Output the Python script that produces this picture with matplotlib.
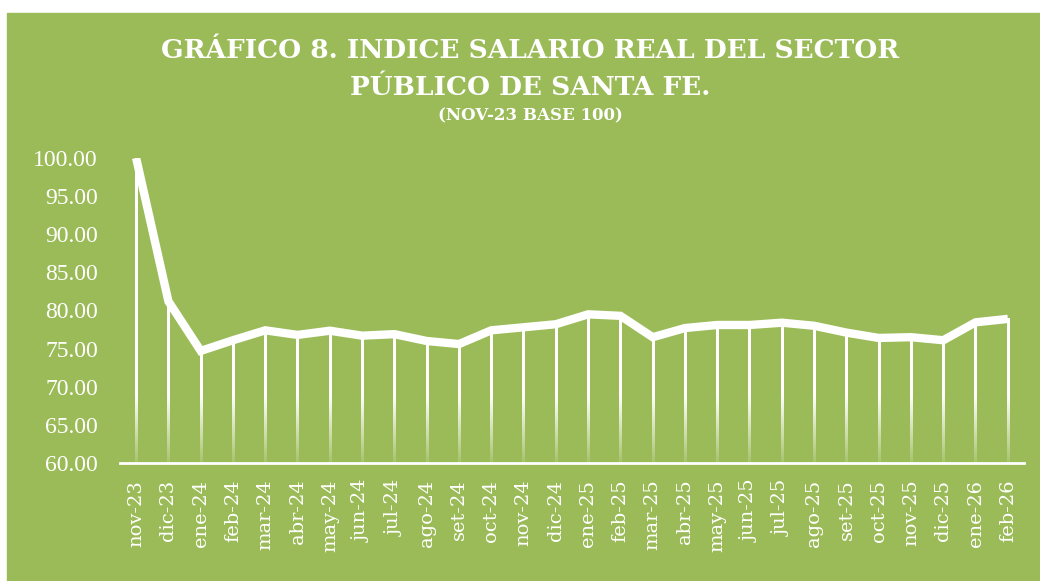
#!/usr/bin/env python3
"""
Indice salario real del sector publico de Santa Fe (nov-23 base 100).
"""

import matplotlib

matplotlib.use("Agg")
import matplotlib.pyplot as plt
import numpy as np
from matplotlib.patches import Rectangle

MONTHS = [
    "nov-23", "dic-23", "ene-24", "feb-24", "mar-24", "abr-24", "may-24",
    "jun-24", "jul-24", "ago-24", "set-24", "oct-24", "nov-24", "dic-24",
    "ene-25", "feb-25", "mar-25", "abr-25", "may-25", "jun-25", "jul-25",
    "ago-25", "set-25", "oct-25", "nov-25", "dic-25", "ene-26", "feb-26",
]
INDEX = [
    100.0, 81.2, 74.7, 76.1, 77.4, 76.8, 77.35,
    76.7, 76.9, 76.0, 75.6, 77.4, 77.8, 78.2,
    79.5, 79.3, 76.5, 77.7, 78.1, 78.1, 78.4,
    78.0, 77.1, 76.4, 76.5, 76.1, 78.45, 78.9,
]
Y_TICKS = [60, 65, 70, 75, 80, 85, 90, 95, 100]

GREEN = "#9bbb59"
WHITE = "#ffffff"
SERIF = ["DejaVu Serif"]
TICK_SERIF = ["Liberation Serif", "DejaVu Serif"]


def drop_lines(ax, xs, ys, base=60.0, half_width=0.035):
    # white drop lines that fade out towards the category axis
    for x, y in zip(xs, ys):
        vals = np.linspace(y, base, 200)
        alpha = np.clip(0.12 + (vals - base) / 10.0, 0.12, 1.0)
        img = np.ones((len(vals), 1, 4))
        img[:, 0, 3] = alpha
        ax.imshow(img, extent=(x - half_width, x + half_width, base, y), origin="upper",
                  aspect="auto", interpolation="bilinear", zorder=2)


def main() -> None:
    fig = plt.figure(figsize=(10.4, 5.81), dpi=100)
    fig.patch.set_facecolor("white")
    fig.patches.append(Rectangle((7 / 1040, 0), 1 - 7 / 1040, 1 - 13 / 581,
                                 transform=fig.transFigure, color=GREEN, zorder=-10))

    ax = fig.add_axes([120 / 1040, 1 - 463 / 581, 904 / 1040, 305 / 581])
    ax.set_facecolor("none")
    ax.set_zorder(1)
    xs = np.arange(len(MONTHS))

    drop_lines(ax, xs, INDEX)
    ax.plot(xs, INDEX, color=WHITE, lw=6, solid_joinstyle="miter", solid_capstyle="butt", zorder=3)

    ax.set_xlim(-0.5, len(MONTHS) - 0.5)
    ax.set_ylim(60, 100)
    ax.set_yticks(Y_TICKS)
    ax.set_yticklabels([f"{v:.2f}" for v in Y_TICKS], family=TICK_SERIF, fontsize=17, color=WHITE)
    ax.set_xticks(xs)
    ax.set_xticklabels(MONTHS, rotation=90, family=SERIF, fontsize=14, color=WHITE)
    ax.tick_params(axis="both", length=0)
    ax.tick_params(axis="y", pad=16)
    ax.tick_params(axis="x", pad=12)
    for side in ["top", "right", "left"]:
        ax.spines[side].set_visible(False)
    ax.spines["bottom"].set_color(WHITE)
    ax.spines["bottom"].set_linewidth(2)
    ax.spines["bottom"].set_zorder(4)

    fig.text(0.51, 1 - 50 / 581, "GRÁFICO 8. INDICE SALARIO REAL DEL SECTOR", ha="center", va="center",
             family=SERIF, fontweight="bold", fontsize=19, color=WHITE)
    fig.text(0.51, 1 - 87 / 581, "PÚBLICO DE SANTA FE.", ha="center", va="center",
             family=SERIF, fontweight="bold", fontsize=19, color=WHITE)
    fig.text(0.51, 1 - 116 / 581, "(NOV-23 BASE 100)", ha="center", va="center",
             family=SERIF, fontweight="bold", fontsize=12, color=WHITE)

    fig.savefig("out.png", dpi=100, facecolor="white")
    plt.close(fig)


if __name__ == "__main__":
    main()
